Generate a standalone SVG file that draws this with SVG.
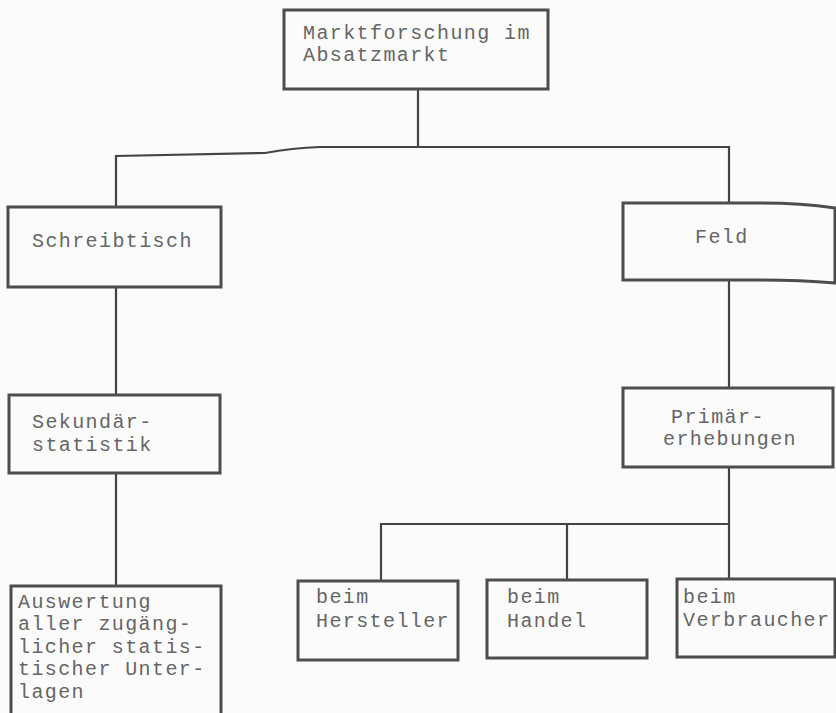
<svg xmlns="http://www.w3.org/2000/svg" width="836" height="713" viewBox="0 0 836 713">
  <style>
    .box { fill: none; stroke: #4d4d4d; stroke-width: 3; stroke-linejoin: miter; }
    .wire { fill: none; stroke: #444; stroke-width: 2.2; }
    .lbl { font-family: "Liberation Mono", "DejaVu Sans Mono", monospace; font-size: 20px; letter-spacing: 1.4px; fill: #666; }
  </style>
  <rect width="836" height="713" fill="#fbfbfb"/>

  <!-- connectors -->
  <g id="connectors">
    <path class="wire" d="M418,89 V147"/>
    <path class="wire" d="M116,207 V156 L265,153 Q292,148 320,147 L729,147 V203"/>
    <path class="wire" d="M116,287 V395"/>
    <path class="wire" d="M729,281 V388"/>
    <path class="wire" d="M116,473 V586"/>
    <path class="wire" d="M729,467 V579"/>
    <path class="wire" d="M381,581 V524 H729"/>
    <path class="wire" d="M567,524 V580"/>
  </g>

  <!-- root -->
  <g id="marktforschung">
    <rect class="box" x="284" y="10" width="264" height="79"/>
    <text class="lbl" x="303" y="39">Marktforschung im</text>
    <text class="lbl" x="303" y="61">Absatzmarkt</text>
  </g>

  <!-- desk research branch -->
  <g id="schreibtisch">
    <rect class="box" x="8" y="207" width="213" height="80"/>
    <text class="lbl" x="32" y="247">Schreibtisch</text>
  </g>
  <g id="sekundaerstatistik">
    <rect class="box" x="9" y="395" width="211" height="78"/>
    <text class="lbl" x="32" y="428">Sekundär-</text>
    <text class="lbl" x="32" y="451">statistik</text>
  </g>
  <g id="auswertung">
    <path class="box" d="M11,720 V586 H221 V720"/>
    <text class="lbl" x="18" y="608">Auswertung</text>
    <text class="lbl" x="18" y="630">aller zugäng-</text>
    <text class="lbl" x="18" y="653">licher statis-</text>
    <text class="lbl" x="18" y="675">tischer Unter-</text>
    <text class="lbl" x="18" y="698">lagen</text>
  </g>

  <!-- field research branch -->
  <g id="feld">
    <path class="box" d="M623,203 H760 Q800,203 835,208 V283 Q800,280 760,280 H623 Z"/>
    <text class="lbl" x="695" y="243">Feld</text>
  </g>
  <g id="primaererhebungen">
    <rect class="box" x="623" y="388" width="210" height="79"/>
    <text class="lbl" x="671" y="423">Primär-</text>
    <text class="lbl" x="663" y="445">erhebungen</text>
  </g>
  <g id="hersteller">
    <rect class="box" x="298" y="581" width="160" height="79"/>
    <text class="lbl" x="316" y="603">beim</text>
    <text class="lbl" x="316" y="627">Hersteller</text>
  </g>
  <g id="handel">
    <rect class="box" x="487" y="580" width="160" height="78"/>
    <text class="lbl" x="507" y="603">beim</text>
    <text class="lbl" x="507" y="627">Handel</text>
  </g>
  <g id="verbraucher">
    <rect class="box" x="677" y="579" width="158" height="78"/>
    <text class="lbl" x="683" y="603">beim</text>
    <text class="lbl" x="683" y="626">Verbraucher</text>
  </g>
</svg>
